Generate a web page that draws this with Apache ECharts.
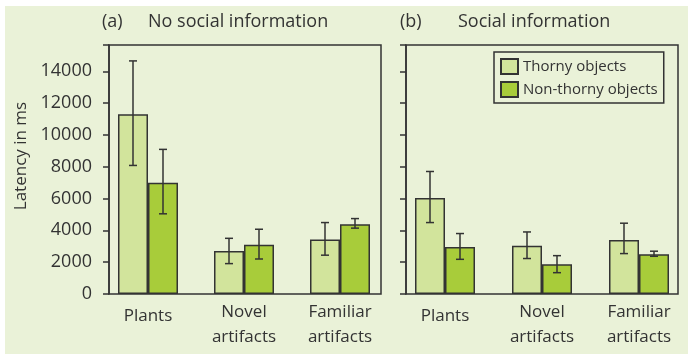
<!DOCTYPE html>
<html>
<head>
<meta charset="utf-8">
<script src="https://cdn.jsdelivr.net/npm/echarts@6/dist/echarts.min.js"></script>
<style>
  html, body { margin: 0; padding: 0; background: #ffffff; }
  #chart { width: 692px; height: 358px; }
</style>
</head>
<body>
<div id="chart"></div>
<script>
// Categories and latencies (ms)
const categories = ['Plants', 'Novel\nartifacts', 'Familiar\nartifacts'];
const seriesNames = ['Thorny objects', 'Non-thorny objects'];

// (a) No social information
const noSocialThorny = [11300, 2700, 3420];
const noSocialThornyErr = [[8080, 14650], [1910, 3500], [2440, 4490]];
const noSocialNonThorny = [7000, 3100, 4390];
const noSocialNonThornyErr = [[5040, 9090], [2200, 4070], [4140, 4740]];

// (b) Social information
const socialThorny = [6030, 3040, 3400];
const socialThornyErr = [[4490, 7700], [2230, 3900], [2540, 4450]];
const socialNonThorny = [2960, 1870, 2500];
const socialNonThornyErr = [[2180, 3800], [1340, 2410], [2370, 2690]];

// Y axis
const yMin = 0;
const yMax = 15650;
const yStep = 2000;

const FONT = '"Open Sans", "Noto Sans", sans-serif';
const INK = '#333333';
const BG = '#eaf2d8';
const THORNY = '#d2e49c';
const NONTHORNY = '#a8cc3a';
const BAR_W = 30;

const chart = echarts.init(document.getElementById('chart'), null, { renderer: 'canvas' });

function errorData(thornyErr, nonErr) {
  const out = [];
  thornyErr.forEach((e, i) => out.push([i, e[0], e[1], -1]));
  nonErr.forEach((e, i) => out.push([i, e[0], e[1], 1]));
  return out;
}

function renderErr(params, api) {
  const idx = api.value(0);
  const side = api.value(3);
  const lo = api.coord([idx, api.value(1)]);
  const hi = api.coord([idx, api.value(2)]);
  const x = lo[0] + side * BAR_W / 2;
  const cap = 4;
  const style = { stroke: INK, lineWidth: 1.5 };
  return {
    type: 'group',
    children: [
      { type: 'line', shape: { x1: x, y1: lo[1], x2: x, y2: hi[1] }, style },
      { type: 'line', shape: { x1: x - cap, y1: lo[1], x2: x + cap, y2: lo[1] }, style },
      { type: 'line', shape: { x1: x - cap, y1: hi[1], x2: x + cap, y2: hi[1] }, style }
    ]
  };
}

const catLabel = {
  interval: 0,
  color: INK,
  fontFamily: FONT,
  fontSize: 17,
  lineHeight: 25,
  margin: 6,
  formatter: v => v.indexOf('\n') < 0 ? '{p|' + v + '}' : v,
  rich: { p: { fontFamily: FONT, fontSize: 17, color: INK, padding: [8, 0, 0, 0] } }
};

function barSeries(name, data, axisIdx, color) {
  return {
    type: 'bar',
    name: name,
    xAxisIndex: axisIdx,
    yAxisIndex: axisIdx,
    data: data,
    barWidth: BAR_W,
    barGap: '0%',
    itemStyle: { color: color, borderColor: INK, borderWidth: 1.5 },
    z: 3
  };
}

const option = {
  animation: false,
  textStyle: { fontFamily: FONT, color: INK },
  graphic: [
    { type: 'rect', z: -100, shape: { x: 5, y: 6, width: 683, height: 348 }, style: { fill: BG } },
    { type: 'text', left: 102, top: 13, style: { text: '(a)', font: '18px ' + FONT, fill: INK } },
    { type: 'text', left: 148, top: 13, style: { text: 'No social information', font: '18px ' + FONT, fill: INK } },
    { type: 'text', left: 400, top: 13, style: { text: '(b)', font: '18px ' + FONT, fill: INK } },
    { type: 'text', left: 458, top: 13, style: { text: 'Social information', font: '18px ' + FONT, fill: INK } },
    { type: 'text', x: 21, y: 156, rotation: Math.PI / 2,
      style: { text: 'Latency in ms', font: '17px ' + FONT, fill: INK, textAlign: 'center', textVerticalAlign: 'middle' } }
  ],
  legend: {
    data: seriesNames,
    orient: 'vertical',
    left: 494,
    top: 52,
    padding: [6, 6, 5, 6],
    itemGap: 6,
    itemWidth: 17,
    itemHeight: 15,
    icon: 'rect',
    borderColor: INK,
    borderWidth: 1.5,
    formatter: name => '{t|' + name + '}',
    textStyle: {
      fontFamily: FONT, fontSize: 15, color: INK,
      rich: { t: { fontFamily: FONT, fontSize: 15, color: INK, width: 147 } }
    }
  },
  grid: [
    { left: 100, top: 45, width: 288, height: 249 },
    { left: 109, top: 45, width: 272, height: 249, show: true, borderColor: INK, borderWidth: 1.5, backgroundColor: 'transparent' },
    { left: 396.5, top: 45, width: 291, height: 249 },
    { left: 406, top: 45, width: 272, height: 249, show: true, borderColor: INK, borderWidth: 1.5, backgroundColor: 'transparent' }
  ],
  xAxis: [
    { gridIndex: 0, type: 'category', data: categories, axisLine: { show: false }, axisTick: { show: false }, axisLabel: catLabel },
    { gridIndex: 1, type: 'value', show: false, min: 0, max: 1 },
    { gridIndex: 2, type: 'category', data: categories, axisLine: { show: false }, axisTick: { show: false }, axisLabel: catLabel },
    { gridIndex: 3, type: 'value', show: false, min: 0, max: 1 }
  ],
  yAxis: [
    { gridIndex: 0, type: 'value', min: yMin, max: yMax, show: false },
    { gridIndex: 1, type: 'value', min: yMin, max: yMax, interval: yStep,
      axisLine: { show: true, lineStyle: { color: INK, width: 1.5 } },
      axisTick: { show: true, length: 6, lineStyle: { color: INK, width: 1.5 } },
      splitLine: { show: false },
      axisLabel: { color: INK, fontFamily: FONT, fontSize: 18, margin: 17,
        formatter: v => (v > 14000 ? '' : String(v)) } },
    { gridIndex: 2, type: 'value', min: yMin, max: yMax, show: false },
    { gridIndex: 3, type: 'value', min: yMin, max: yMax, interval: yStep,
      axisLine: { show: true, lineStyle: { color: INK, width: 1.5 } },
      axisTick: { show: true, length: 6, lineStyle: { color: INK, width: 1.5 } },
      splitLine: { show: false },
      axisLabel: { show: false } }
  ],
  series: [
    barSeries(seriesNames[0], noSocialThorny, 0, THORNY),
    barSeries(seriesNames[1], noSocialNonThorny, 0, NONTHORNY),
    barSeries(seriesNames[0], socialThorny, 2, THORNY),
    barSeries(seriesNames[1], socialNonThorny, 2, NONTHORNY),
    { type: 'custom', xAxisIndex: 0, yAxisIndex: 0, renderItem: renderErr, z: 5,
      data: errorData(noSocialThornyErr, noSocialNonThornyErr) },
    { type: 'custom', xAxisIndex: 2, yAxisIndex: 2, renderItem: renderErr, z: 5,
      data: errorData(socialThornyErr, socialNonThornyErr) }
  ]
};

chart.setOption(option);
</script>
</body>
</html>
